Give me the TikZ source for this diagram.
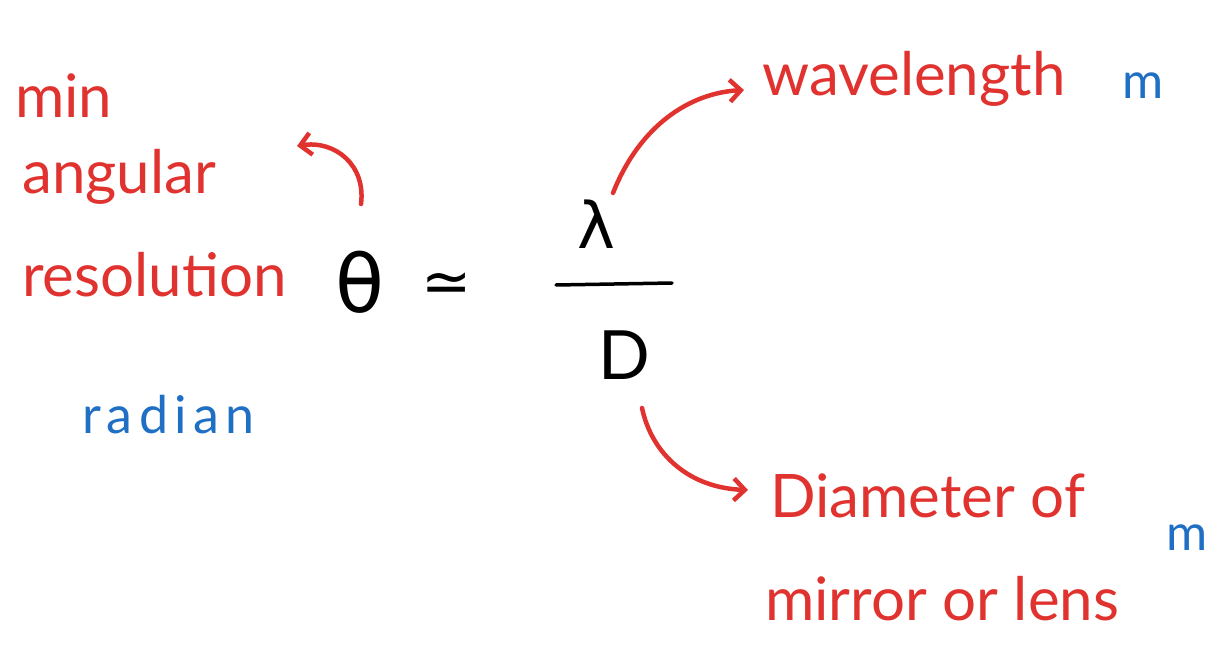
\documentclass[tikz,border=0pt]{standalone}
\usepackage{fontspec}
\setmainfont{Lato}
\newfontfamily\symfont{DejaVu Sans}
\newfontfamily\spacedfont[LetterSpace=12]{Lato}
\usetikzlibrary{arrows.meta}
\definecolor{hred}{HTML}{E0332F}
\definecolor{hblue}{HTML}{1F6FC4}
\tikzset{
  lbl/.style={text=hred, font=\fontsize{60}{64}\selectfont, anchor=base west, inner sep=0pt},
  unit/.style={text=hblue, font=\fontsize{50}{54}\selectfont, anchor=base west, inner sep=0pt},
  sym/.style={text=black, font=\symfont\fontsize{80}{84}\selectfont, inner sep=0pt},
  harrow/.style={draw=hred, line width=4.5pt, line cap=round, -{Straight Barb[length=11pt,width=22pt,line width=4.5pt]}}
}
\begin{document}
\begin{tikzpicture}[x=1pt,y=-1pt]
\useasboundingbox (0,0) rectangle (1220,652);
% left labels
\node[lbl] (min) at (15,118) {min};
\node[lbl] (ang) at (22,194) {angular};
\node[lbl] (res) at (22,296) {resolution};
\node[unit, font=\spacedfont\fontsize{52}{56}\selectfont] (rad) at (82,433) {radian};
% formula
\node[sym] (theta) at (360,282) {θ};
\node[sym, font=\symfont\fontsize{60}{64}\selectfont] (approx) at (447,288) {≃};
\node[sym, font=\symfont\fontsize{64}{68}\selectfont] (lam) at (596,224) {λ};
\coordinate (fl) at (556,285);
\coordinate (fr) at (672,283);
\draw[line width=3.5pt, line cap=round] (fl) -- (fr);
\node[sym, font=\fontsize{68}{72}\selectfont] (D) at (624,355) {D};
% right labels
\node[lbl] (wave) at (762,96) {wavelength};
\node[unit] (m1) at (1122,99) {m};
\node[lbl] (diam) at (770,517) {Diameter of};
\node[lbl] (mirr) at (765,620) {mirror or lens};
\node[unit] (m2) at (1166,550) {m};
% arrows
\coordinate (a1s) at (613,193);
\coordinate (a1e) at (744,90);
\draw[harrow] (a1s) .. controls (640,125) and (690,93) .. (a1e);
\coordinate (a2s) at (361,204);
\coordinate (a2e) at (297,146);
\draw[harrow] (a2s) .. controls (366,165) and (335,140) .. (a2e);
\coordinate (a3s) at (642,408);
\coordinate (a3e) at (748,490);
\draw[harrow] (a3s) .. controls (652,455) and (690,488) .. (a3e);
\end{tikzpicture}
\end{document}
